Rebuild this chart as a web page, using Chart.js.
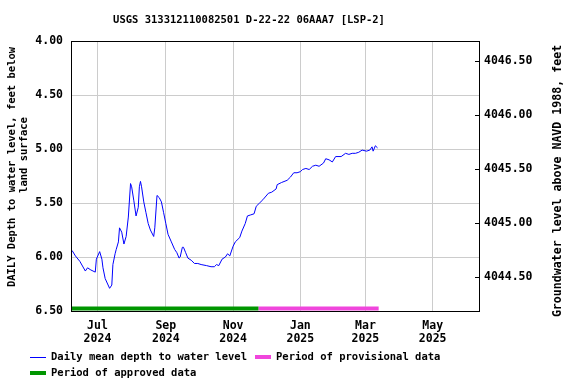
<!DOCTYPE html>
<html>
<head>
<meta charset="utf-8">
<script src="https://cdn.jsdelivr.net/npm/chart.js@4.4.1/dist/chart.umd.min.js"></script>
<style>
  html, body { margin: 0; padding: 0; background: #fff; }
  #wrap { width: 576px; height: 384px; }
</style>
</head>
<body>
<div id="wrap"><canvas id="levelChart" width="576" height="384"></canvas></div>
<script>
// daily mean depth to water
const dates = [
  '2024-06-08', '2024-06-11', '2024-06-15', '2024-06-20', '2024-06-22', '2024-06-25', '2024-06-29', '2024-06-30',
  '2024-07-03', '2024-07-05', '2024-07-06', '2024-07-08', '2024-07-12', '2024-07-14', '2024-07-15', '2024-07-17',
  '2024-07-18', '2024-07-20', '2024-07-21', '2024-07-23', '2024-07-25', '2024-07-27', '2024-07-29', '2024-07-31',
  '2024-08-01', '2024-08-03', '2024-08-05', '2024-08-07', '2024-08-08', '2024-08-09', '2024-08-10', '2024-08-12',
  '2024-08-14', '2024-08-16', '2024-08-18', '2024-08-21', '2024-08-22', '2024-08-24', '2024-08-26', '2024-08-28',
  '2024-08-30', '2024-09-01', '2024-09-03', '2024-09-06', '2024-09-09', '2024-09-11', '2024-09-13', '2024-09-14',
  '2024-09-16', '2024-09-17', '2024-09-19', '2024-09-21', '2024-09-24', '2024-09-27', '2024-09-30', '2024-10-03',
  '2024-10-08', '2024-10-12', '2024-10-15', '2024-10-17', '2024-10-19', '2024-10-22', '2024-10-25', '2024-10-27',
  '2024-10-29', '2024-11-01', '2024-11-03', '2024-11-07', '2024-11-09', '2024-11-12', '2024-11-14', '2024-11-17',
  '2024-11-20', '2024-11-22', '2024-11-25', '2024-11-28', '2024-12-03', '2024-12-06', '2024-12-10', '2024-12-11',
  '2024-12-15', '2024-12-20', '2024-12-23', '2024-12-26', '2024-12-29', '2025-01-01', '2025-01-03', '2025-01-06',
  '2025-01-09', '2025-01-12', '2025-01-15', '2025-01-18', '2025-01-22', '2025-01-24', '2025-01-27', '2025-01-30',
  '2025-02-02', '2025-02-07', '2025-02-11', '2025-02-14', '2025-02-17', '2025-02-20', '2025-02-23', '2025-02-26',
  '2025-03-02', '2025-03-05', '2025-03-07', '2025-03-08', '2025-03-10', '2025-03-12'
];
const depths = [
  5.94, 5.99, 6.04, 6.13, 6.10, 6.12, 6.14, 6.02,
  5.95, 6.02, 6.10, 6.20, 6.29, 6.26, 6.07, 5.97,
  5.93, 5.86, 5.73, 5.77, 5.88, 5.81, 5.63, 5.32,
  5.35, 5.48, 5.62, 5.54, 5.35, 5.30, 5.35, 5.49,
  5.59, 5.69, 5.75, 5.81, 5.73, 5.43, 5.45, 5.49,
  5.59, 5.69, 5.79, 5.86, 5.93, 5.96, 6.01, 6.00,
  5.91, 5.91, 5.96, 6.01, 6.03, 6.06, 6.06, 6.07,
  6.08, 6.09, 6.09, 6.07, 6.08, 6.02, 6.00, 5.97,
  5.99, 5.90, 5.86, 5.82, 5.76, 5.69, 5.62, 5.61,
  5.60, 5.53, 5.50, 5.47, 5.41, 5.40, 5.37, 5.33,
  5.31, 5.29, 5.26, 5.22, 5.22, 5.21, 5.19, 5.18,
  5.19, 5.16, 5.15, 5.16, 5.13, 5.09, 5.10, 5.12,
  5.07, 5.07, 5.04, 5.05, 5.04, 5.04, 5.03, 5.01,
  5.02, 5.01, 4.98, 5.02, 4.97, 4.99
];

// approval periods (start, end)
const approvedPeriod = ['2024-06-07', '2024-11-24'];
const provisionalPeriod = ['2024-11-24', '2025-03-13'];

// axes
const xRange = ['2024-06-07', '2025-06-12'];
const monthTicks = ['2024-07-01', '2024-09-01', '2024-11-01', '2025-01-01', '2025-03-01', '2025-05-01'];
const monthLabels = [['Jul', '2024'], ['Sep', '2024'], ['Nov', '2024'], ['Jan', '2025'], ['Mar', '2025'], ['May', '2025']];
const depthRange = [4.0, 6.5];
const depthTicks = [4.0, 4.5, 5.0, 5.5, 6.0, 6.5];
const elevTicks = [4044.5, 4045.0, 4045.5, 4046.0, 4046.5];
const landSurface = 4050.685; // elevation = landSurface - depth

const TICK_FONT = { family: "'DejaVu Sans Mono', monospace", size: 11.5, weight: 'bold' };
const fontStr = `bold 10.5px 'DejaVu Sans Mono', monospace`;
const BLUE = '#0000ff';
const GREEN = '#009600';
const PINK = '#f046dc';

const day0 = Date.UTC(2024, 5, 1);
function dayOf(s) {
    const [y, m, d] = s.split('-').map(Number);
    return (Date.UTC(y, m - 1, d) - day0) / 86400000;
}

const barDepth = 6.478;

const framePlugin = {
    id: 'frame',
    afterDraw(chart) {
        const ctx = chart.ctx;
        const a = chart.chartArea;
        ctx.save();
        ctx.strokeStyle = '#000';
        ctx.lineWidth = 1;
        ctx.strokeRect(Math.round(a.left) + 0.5, Math.round(a.top) + 0.5, Math.round(a.right - a.left), Math.round(a.bottom - a.top));

        // inside tick marks on the right axis
        const y2 = chart.scales.y2;
        y2.ticks.forEach(t => {
            const py = Math.round(y2.getPixelForValue(t.value)) + 0.5;
            ctx.beginPath();
            ctx.moveTo(a.right - 4, py);
            ctx.lineTo(a.right, py);
            ctx.stroke();
        });

        ctx.fillStyle = '#000';
        ctx.font = fontStr;
        ctx.textAlign = 'center';
        ctx.textBaseline = 'middle';
        ctx.fillText('USGS 313312110082501 D-22-22 06AAA7 [LSP-2]', 249, 20);

        // axis titles
        ctx.save();
        ctx.translate(12, 167);
        ctx.rotate(-Math.PI / 2);
        ctx.fillText('DAILY Depth to water level, feet below', 0, 0);
        ctx.restore();
        ctx.save();
        ctx.translate(24, 155);
        ctx.rotate(-Math.PI / 2);
        ctx.fillText('land surface', 0, 0);
        ctx.restore();
        ctx.save();
        ctx.translate(558, 181);
        ctx.rotate(-Math.PI / 2);
        ctx.font = `bold 11.6px 'DejaVu Sans Mono', monospace`;
        ctx.fillText('Groundwater level above NAVD 1988, feet', 0, 0);
        ctx.restore();

        // legend
        ctx.textAlign = 'left';
        ctx.strokeStyle = BLUE;
        ctx.beginPath();
        ctx.moveTo(30, 357.5);
        ctx.lineTo(46, 357.5);
        ctx.stroke();
        ctx.fillText(chart.data.datasets[0].label, 51, 357);
        ctx.fillStyle = PINK;
        ctx.fillRect(255, 355, 16, 4);
        ctx.fillStyle = '#000';
        ctx.fillText(chart.data.datasets[2].label, 276, 357);
        ctx.fillStyle = GREEN;
        ctx.fillRect(30, 371, 16, 4);
        ctx.fillStyle = '#000';
        ctx.fillText(chart.data.datasets[1].label, 51, 373);
        ctx.restore();
    }
};

const ctx = document.getElementById('levelChart').getContext('2d');
const chart = new Chart(ctx, {
    type: 'line',
    data: {
        datasets: [
            {
                label: 'Daily mean depth to water level',
                data: dates.map((d, i) => ({ x: dayOf(d), y: depths[i] })),
                borderColor: BLUE,
                borderWidth: 1,
                pointRadius: 0,
                tension: 0,
                yAxisID: 'y'
            },
            {
                label: 'Period of approved data',
                data: approvedPeriod.map(d => ({ x: dayOf(d), y: barDepth })),
                borderColor: GREEN,
                borderWidth: 4,
                borderCapStyle: 'butt',
                pointRadius: 0,
                yAxisID: 'y'
            },
            {
                label: 'Period of provisional data',
                data: provisionalPeriod.map(d => ({ x: dayOf(d), y: barDepth })),
                borderColor: PINK,
                borderWidth: 4,
                borderCapStyle: 'butt',
                pointRadius: 0,
                yAxisID: 'y'
            }
        ]
    },
    options: {
        responsive: false,
        animation: false,
        layout: { padding: { top: 41, left: 0, right: 0, bottom: 0 } },
        plugins: {
            legend: { display: false },
            tooltip: { enabled: false }
        },
        scales: {
            x: {
                type: 'linear',
                min: dayOf(xRange[0]),
                max: dayOf(xRange[1]),
                afterFit: s => { s.height = 73; },
                afterBuildTicks: s => { s.ticks = monthTicks.map(d => ({ value: dayOf(d) })); },
                ticks: {
                    callback: (v, i) => monthLabels[i],
                    font: { ...TICK_FONT, lineHeight: 1.15 },
                    color: '#000',
                    padding: 8,
                    maxRotation: 0,
                    autoSkip: false
                },
                grid: { color: '#cccccc', drawTicks: false },
                border: { display: false }
            },
            y: {
                position: 'left',
                reverse: true,
                min: depthRange[0],
                max: depthRange[1],
                afterFit: s => { s.width = 71; },
                afterBuildTicks: s => { s.ticks = depthTicks.map(v => ({ value: v })); },
                ticks: { callback: v => v.toFixed(2), font: TICK_FONT, color: '#000', padding: 8 },
                grid: { color: '#cccccc', drawTicks: false },
                border: { display: false }
            },
            y2: {
                position: 'right',
                min: landSurface - depthRange[1],
                max: landSurface - depthRange[0],
                afterFit: s => { s.width = 97; },
                afterBuildTicks: s => { s.ticks = elevTicks.map(v => ({ value: v })); },
                ticks: { callback: v => v.toFixed(2), font: TICK_FONT, color: '#000', padding: 5 },
                grid: { display: false, drawTicks: false },
                border: { display: false }
            }
        }
    },
    plugins: [framePlugin]
});
</script>
</body>
</html>
